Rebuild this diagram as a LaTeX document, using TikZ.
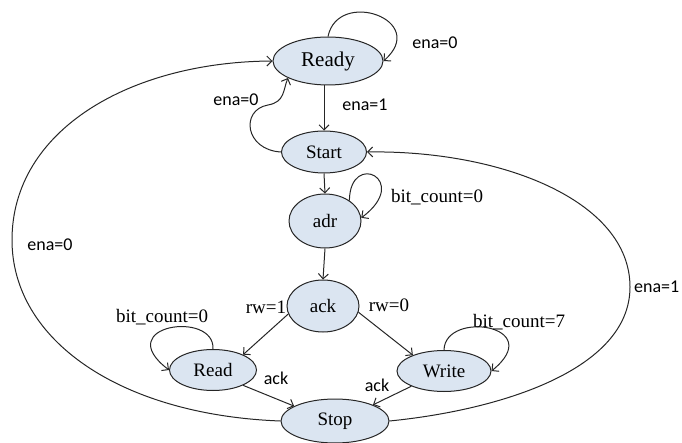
\documentclass[tikz,border=0pt]{standalone}
\usepackage{fontspec}
\setmainfont{Liberation Serif}
\newfontfamily\calib{Carlito}
\usetikzlibrary{shapes.geometric,arrows.meta}
\definecolor{stfill}{HTML}{DBE5F1}
\definecolor{stline}{HTML}{262626}
\tikzset{
  state/.style={ellipse,draw=stline,fill=stfill,line width=1pt,inner sep=0pt,
     font=\fontsize{19}{19}\selectfont},
  edge/.style={draw=stline,line width=1pt,-{Straight Barb[length=5pt,width=10pt]}},
  enalab/.style={font=\calib\fontsize{18}{18}\selectfont,inner sep=0pt},
  serlab/.style={font=\fontsize{19}{19}\selectfont,inner sep=0pt}
}
\begin{document}
\begin{tikzpicture}[x=1pt,y=-1pt]
\useasboundingbox (0,0) rectangle (682,443);
% states
\node[state,minimum width=110pt,minimum height=48pt,font=\fontsize{21}{21}\selectfont] (Ready) at (328,61) {Ready};
\node[state,minimum width=85pt,minimum height=42pt] (Start) at (324,152) {Start};
\node[state,minimum width=72pt,minimum height=54pt] (adr) at (325,221) {adr};
\node[state,minimum width=72pt,minimum height=52pt] (ack) at (323,306) {ack};
\node[state,minimum width=87pt,minimum height=41pt] (Read) at (213,370) {Read};
\node[state,minimum width=94pt,minimum height=41pt] (Write) at (444,371) {Write};
\node[state,minimum width=108pt,minimum height=44pt] (Stop) at (335,421) {Stop};
% straight edges
\draw[edge] (Ready.south -| Start.north) -- (Start.north);
\draw[edge] (Start.south) -- (adr.north);
\draw[edge] (adr.south) -- (ack.north);
\draw[edge] (ack.193) -- (Read.27);
\draw[edge] (ack.-10) -- (Write.153);
\draw[edge] (Read.-27) -- (Stop.160);
\draw[edge] (Write.205) -- (Stop.23);
% self loops
\draw[edge] (Ready.north) .. controls (338,-12) and (430,20) .. (Ready.east);
\draw[edge] (adr.40) .. controls (350,150) and (412,180) .. (adr.5);
\draw[edge] (Read.north) .. controls (215,310) and (110,325) .. (Read.west);
\draw[edge] (Write.north) .. controls (445,310) and (548,325) .. (Write.east);
% Start -> Ready
\draw[edge] (Start.west) .. controls (245,150) and (240,110) .. (268,105)
   .. controls (285,102) and (283,90) .. (Ready.203);
% big curves
\draw[edge] (Stop.west) .. controls (120,415) and (12,340) .. (12,240)
   .. controls (12,130) and (130,62) .. (Ready.west);
\draw[edge] (Stop.east) .. controls (500,410) and (630,370) .. (630,287)
   .. controls (630,200) and (500,150) .. (Start.east);
% labels
\node[enalab] (l1) at (435,43) {ena=0};
\node[enalab] (l2) at (365,105) {ena=1};
\node[enalab] (l3) at (236,100) {ena=0};
\node[enalab] (l4) at (50,245) {ena=0};
\node[enalab,anchor=west] (l5) at (634,287) {ena=1};
\node[serlab] (l6) at (437,197) {bit\_count=0};
\node[serlab] (l7) at (266,307) {rw=1};
\node[serlab] (l8) at (389,305) {rw=0};
\node[serlab] (l9) at (162,317) {bit\_count=0};
\node[serlab] (l10) at (519,322) {bit\_count=7};
\node[enalab] (l11) at (276,378) {ack};
\node[enalab] (l12) at (377,385) {ack};
\end{tikzpicture}
\end{document}
